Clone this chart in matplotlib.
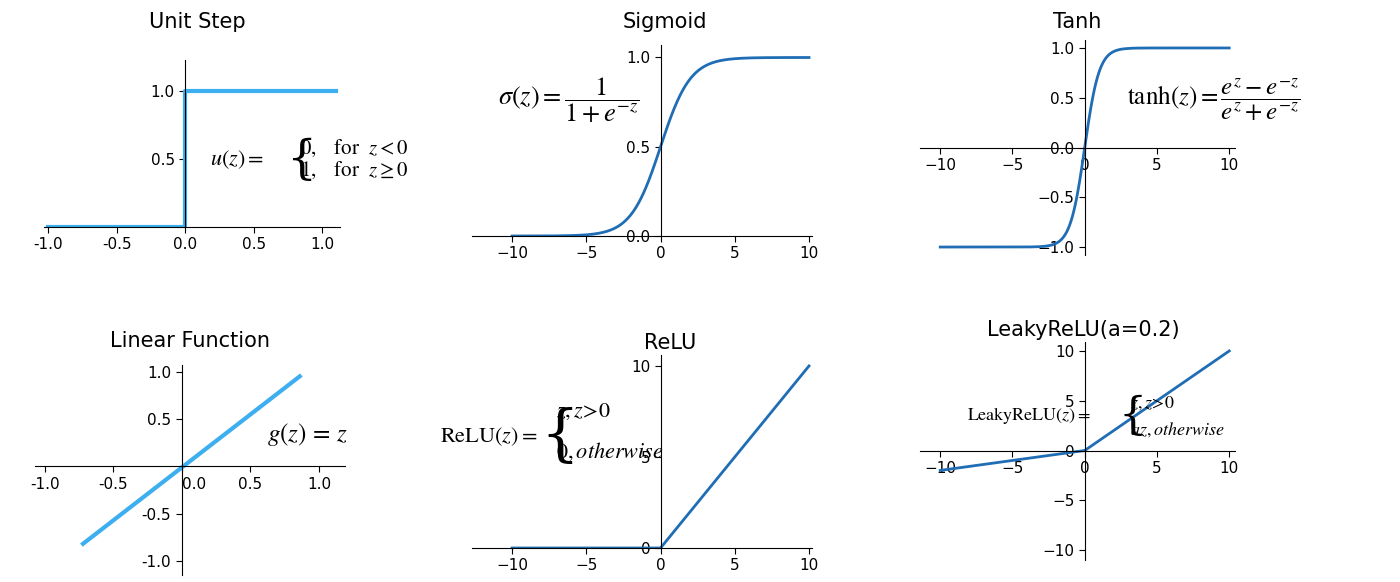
import numpy as np
import matplotlib
matplotlib.use("Agg")
import matplotlib.pyplot as plt

plt.rcParams["mathtext.fontset"] = "stix"
W, H = 1400, 582
fig = plt.figure(figsize=(14, 5.82), dpi=100)

LIGHT = "#3daef0"
DARK = "#1f6db5"

step_x = [-1.0, 0.0, 0.0, 1.1]
step_y = [0.0, 0.0, 1.0, 1.0]
lin_x = [-0.72, 0.86]
lin_y = [-0.82, 0.95]
z = np.linspace(-10, 10, 400)

def ax_px(l, r, t, b):
    return fig.add_axes([l / W, 1 - b / H, (r - l) / W, (b - t) / H])

def ptext(x, y, s, **kw):
    kw.setdefault("va", "center")
    return fig.text(x / W, 1 - y / H, s, **kw)

def style(ax, xt, xl, yt, yl, fs=11):
    for s in ["top", "right"]:
        ax.spines[s].set_visible(False)
    ax.spines["left"].set_position(("data", 0))
    ax.spines["bottom"].set_position(("data", 0))
    ax.set_xticks(xt)
    ax.set_xticklabels(xl, fontsize=fs)
    ax.set_yticks(yt)
    ax.set_yticklabels(yl, fontsize=fs)
    ax.tick_params(length=4)

# Unit step
ax = ax_px(44, 340, 60, 227)
ax.plot(step_x, step_y, color=LIGHT, lw=3)
ax.set_xlim(-1.03, 1.13); ax.set_ylim(0, 1.23)
style(ax, [-1, -0.5, 0, 0.5, 1], ["-1.0", "-0.5", "0.0", "0.5", "1.0"], [0.5, 1.0], ["0.5", "1.0"])
ptext(210, 160, r"$u(z)=$", fontsize=16)
ptext(286, 160, "{", fontsize=34, family="DejaVu Serif", fontweight="light")
ptext(300, 148, r"$0,\ \ \ \mathrm{for}\ \ z<0$", fontsize=15)
ptext(300, 170, r"$1,\ \ \ \mathrm{for}\ \ z\geq0$", fontsize=15)
ptext(197, 22, "Unit Step", fontsize=15, ha="center")

# Sigmoid
ax = ax_px(472, 812, 45, 236)
ax.plot(z, 1 / (1 + np.exp(-z)), color=DARK, lw=2)
ax.set_xlim(-12.7, 10.2); ax.set_ylim(0, 1.07)
style(ax, [-10, -5, 0, 5, 10], ["−10", "−5", "0", "5", "10"], [0, 0.5, 1.0], ["0.0", "0.5", "1.0"])
ptext(498, 100, r"$\sigma\left(z\right)=\dfrac{1}{1+e^{-z}}$", fontsize=19)
ptext(665, 22, "Sigmoid", fontsize=15, ha="center")

# Tanh
ax = ax_px(920, 1235, 40, 255)
ax.plot(z, np.tanh(z), color=DARK, lw=2)
ax.set_xlim(-11.4, 10.4); ax.set_ylim(-1.08, 1.08)
style(ax, [-10, -5, 0, 5, 10], ["−10", "−5", "0", "5", "10"], [-1, -0.5, 0, 0.5, 1],
      ["−1.0", "−0.5", "0.0", "0.5", "1.0"])
ptext(1127, 100, r"$\mathrm{tanh}(z)=\dfrac{e^z-e^{-z}}{e^z+e^{-z}}$", fontsize=18)
ptext(1077, 22, "Tanh", fontsize=15, ha="center")

# Linear
ax = ax_px(35, 345, 365, 575)
ax.plot(lin_x, lin_y, color=LIGHT, lw=3)
ax.set_xlim(-1.07, 1.19); ax.set_ylim(-1.15, 1.07)
style(ax, [-1, -0.5, 0, 0.5, 1], ["-1.0", "-0.5", "0.0", "0.5", "1.0"], [-1, -0.5, 0.5, 1.0],
      ["-1.0", "-0.5", "0.5", "1.0"])
ax.get_xticklabels()[2].set_horizontalalignment("left")
ptext(267, 435, r"$g(z)\,=\,z$", fontsize=18)
ptext(190, 341, "Linear Function", fontsize=15, ha="center")

# ReLU
ax = ax_px(472, 812, 355, 548)
ax.plot(z, np.maximum(z, 0), color=DARK, lw=2)
ax.set_xlim(-12.7, 10.2); ax.set_ylim(0, 10.6)
style(ax, [-10, -5, 0, 5, 10], ["−10", "−5", "0", "5", "10"], [0, 5, 10], ["0", "5", "10"])
ptext(440, 437, r"$\mathrm{ReLU}\left(z\right)=$", fontsize=16)
ptext(540, 437, "{", fontsize=44, family="DejaVu Serif", fontweight="light")
ptext(556, 412, r"$z,z\!>\!0$", fontsize=16)
ptext(556, 452, r"$0,\mathit{otherwise}$", fontsize=16)
ptext(670, 343, "ReLU", fontsize=15, ha="center")

# LeakyReLU
ax = ax_px(920, 1235, 342, 560)
ax.plot(z, np.where(z > 0, z, 0.2 * z), color=DARK, lw=2)
ax.set_xlim(-11.4, 10.4); ax.set_ylim(-11.0, 10.9)
style(ax, [-10, -5, 0, 5, 10], ["−10", "−5", "0", "5", "10"], [-10, -5, 0, 5, 10],
      ["−10", "−5", "0", "5", "10"])
ptext(967, 416, r"$\mathrm{LeakyReLU}\left(z\right)=$", fontsize=13)
ptext(1118, 416, "{", fontsize=32, family="DejaVu Serif", fontweight="light")
ptext(1130, 403, r"$z,z\!>\!0$", fontsize=13)
ptext(1130, 430, r"$az,\mathit{otherwise}$", fontsize=13)
ptext(1083, 330, "LeakyReLU(a=0.2)", fontsize=15, ha="center")

fig.savefig("out.png", dpi=100)
